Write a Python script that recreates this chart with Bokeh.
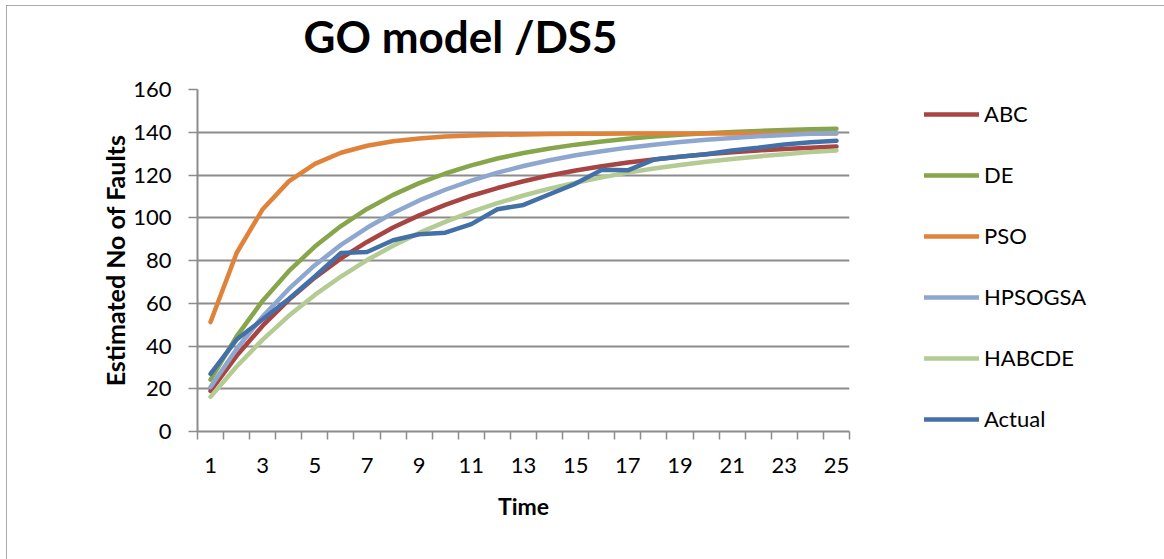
from bokeh.plotting import figure
from bokeh.models import Range1d, FixedTicker, Legend, LegendItem, LinearAxis
from bokeh.embed import file_html
from bokeh.resources import INLINE

time = [1, 2, 3, 4, 5, 6, 7, 8, 9, 10, 11, 12, 13, 14, 15, 16, 17, 18, 19, 20, 21, 22, 23, 24, 25]
tick_labels = [1, 3, 5, 7, 9, 11, 13, 15, 17, 19, 21, 23, 25]
y_ticks = [0, 20, 40, 60, 80, 100, 120, 140, 160]

abc = [19.0, 35.4, 49.5, 61.6, 72.0, 81.0, 88.7, 95.4, 101.1, 106.0, 110.3, 113.9, 117.1,
       119.8, 122.1, 124.1, 125.8, 127.3, 128.6, 129.7, 130.6, 131.5, 132.2, 132.8, 133.3]
de = [24.3, 44.5, 61.2, 75.0, 86.5, 96.1, 104.1, 110.7, 116.2, 120.7, 124.5, 127.7, 130.3,
      132.4, 134.2, 135.7, 137.0, 138.0, 138.8, 139.5, 140.1, 140.6, 141.0, 141.4, 141.6]
pso = [51.2, 83.5, 104.0, 117.0, 125.2, 130.4, 133.7, 135.8, 137.1, 138.0, 138.5, 138.8, 139.0,
       139.2, 139.3, 139.3, 139.4, 139.4, 139.4, 139.4, 139.4, 139.4, 139.4, 139.4, 139.4]
hpsogsa = [20.8, 38.6, 53.8, 66.7, 77.8, 87.3, 95.3, 102.2, 108.1, 113.1, 117.4, 121.1, 124.2,
           126.9, 129.2, 131.1, 132.8, 134.2, 135.4, 136.5, 137.3, 138.1, 138.7, 139.3, 139.7]
habcde = [16.2, 30.4, 43.0, 54.1, 63.9, 72.5, 80.2, 86.9, 92.9, 98.1, 102.7, 106.8, 110.4,
          113.6, 116.4, 118.9, 121.1, 123.0, 124.7, 126.2, 127.5, 128.7, 129.7, 130.7, 131.5]
actual = [27.0, 43.0, 52.5, 62.0, 72.5, 83.5, 84.0, 89.5, 92.3, 93.0, 97.0, 104.0, 106.0,
          111.0, 116.0, 122.4, 122.2, 127.2, 128.5, 129.7, 131.5, 132.7, 134.3, 135.3, 136.0]

series = [
    ("ABC", abc, "#A84442"),
    ("DE", de, "#87A64B"),
    ("PSO", pso, "#E0823A"),
    ("HPSOGSA", hpsogsa, "#8EA7CF"),
    ("HABCDE", habcde, "#B4CB93"),
    ("Actual", actual, "#4470A8"),
]

FONT = "Lato"
GRID = "#8c8c8c"

p = figure(frame_width=652, frame_height=342,
           min_border_left=191, min_border_right=314, min_border_top=84, min_border_bottom=134,
           x_range=Range1d(0.5, 25.5), y_range=Range1d(0, 160),
           output_backend="svg", toolbar_location=None, tools="")
p.styles = {"margin-left": "6px", "margin-top": "5px",
            "outline": "2px solid #8f8f8f", "outline-offset": "-2px"}
p.outline_line_color = None
p.background_fill_color = "white"
p.border_fill_color = "white"

p.title.text = "GO model /DS5"
p.title.text_font = FONT
p.title.text_font_style = "bold"
p.title.text_font_size = "44px"
p.title.text_color = "black"
p.title.align = "left"
p.title.offset = 106
p.title.standoff = 2

# x axis (bottom): labels at odd times, tick marks between categories
xa = p.below[0]
minor = [t - 0.5 for t in time] + [time[-1] + 0.5]
xa.ticker = FixedTicker(ticks=tick_labels, minor_ticks=minor)
xa.major_tick_out = 0
xa.major_tick_in = 0
xa.minor_tick_out = 8
xa.minor_tick_in = 0
xa.minor_tick_line_color = GRID
xa.minor_tick_line_width = 1.5
xa.axis_line_color = GRID
xa.axis_line_width = 2
xa.major_label_standoff = 18
xa.major_label_text_font = FONT
xa.major_label_text_font_size = "22px"
xa.major_label_text_color = "black"
xa.axis_label = "Time"
xa.axis_label_text_font = FONT
xa.axis_label_text_font_style = "bold"
xa.axis_label_text_font_size = "23px"
xa.axis_label_text_color = "black"
xa.axis_label_standoff = 16
p.xgrid.grid_line_color = None

# invisible spacer axis between title and plot area (one hidden tick gives it height)
spacer = LinearAxis(ticker=FixedTicker(ticks=[13]), axis_line_color=None,
                    major_tick_out=27, major_tick_in=0, major_tick_line_color=None,
                    minor_tick_out=0, minor_tick_in=0, minor_tick_line_color=None,
                    major_label_standoff=0, major_label_text_font_size="1px",
                    major_label_text_color=None, major_label_overrides={13: ""})
p.add_layout(spacer, "above")

ya = p.left[0]
ya.ticker = FixedTicker(ticks=y_ticks)
ya.minor_tick_line_color = None
ya.major_tick_out = 9
ya.major_tick_in = 0
ya.major_tick_line_color = GRID
ya.major_tick_line_width = 1.5
ya.axis_line_color = GRID
ya.axis_line_width = 2
ya.major_label_standoff = 17
ya.major_label_text_font = FONT
ya.major_label_text_font_size = "22px"
ya.major_label_text_color = "black"
ya.axis_label = "Estimated No of Faults"
ya.axis_label_text_font = FONT
ya.axis_label_text_font_style = "bold"
ya.axis_label_text_font_size = "25px"
ya.axis_label_text_color = "black"
ya.axis_label_standoff = 0
p.ygrid.grid_line_color = GRID
p.ygrid.grid_line_width = 1.8

items = []
for name, vals, col in series:
    r = p.line(time, vals, line_width=4.5, line_color=col, line_cap="round", line_join="round")
    items.append(LegendItem(label=name, renderers=[r]))

legend = Legend(items=items, location=(75, -1), orientation="vertical",
                glyph_width=55, glyph_height=20, label_height=20, spacing=34,
                label_standoff=5, padding=0, margin=0,
                label_text_font=FONT, label_text_font_size="22px", label_text_color="black",
                border_line_color=None, background_fill_alpha=0)
p.add_layout(legend, "right")

open("out.html", "w").write(file_html(p, INLINE))
